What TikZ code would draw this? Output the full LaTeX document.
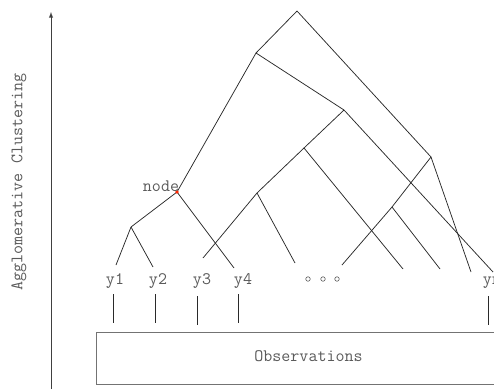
\documentclass[tikz,border=0pt]{standalone}
\usepackage{fontspec}
\definecolor{txt}{HTML}{5A5A5A}
\definecolor{edge}{HTML}{2A2A2A}
\begin{document}
\begin{tikzpicture}[x=1pt,y=-1pt,
  lbl/.style={font=\ttfamily\fontsize{17.5}{20}\selectfont, text=txt, inner sep=0pt, anchor=base},
  branch/.style={draw=edge, line width=0.75pt},
  tick/.style={draw=edge, line width=0.9pt},
  dotmark/.style={circle, draw=txt, line width=0.6pt, minimum size=4.5pt, inner sep=0pt}]
\useasboundingbox (0,0) rectangle (494,389);
% axis
\coordinate (axb) at (51,389);
\coordinate (axt) at (51,12);
\draw[draw=black!75, line width=0.9pt, -latex] (axb) -- (axt);
\node[lbl, rotate=90, anchor=center] (axl) at (19,182) {Agglomerative Clustering};
% tree internal nodes
\coordinate (root) at (297,11);
\coordinate (A) at (256,53);
\coordinate (B) at (344,110);
\coordinate (C) at (431,157);
\coordinate (D) at (304,148);
\coordinate (F) at (257,193);
\coordinate (H) at (392,207);
\coordinate (N) at (177,192);
\coordinate (E) at (131,227);
% leaf ends
\coordinate (l1) at (116,265);
\coordinate (l2) at (153,267);
\coordinate (l3) at (203,258);
\coordinate (l4) at (234,268);
\coordinate (l5) at (295,263);
\coordinate (l6) at (342,265);
\coordinate (l7) at (403,269);
\coordinate (l8) at (440,269);
\coordinate (l9) at (471,272);
\coordinate (l10) at (493,272);
% branches
\draw[branch] (root) -- (A);
\draw[branch] (root) -- (C);
\draw[branch] (A) -- (N);
\draw[branch] (A) -- (B);
\draw[branch] (B) -- (D);
\draw[branch] (B) -- (l10);
\draw[branch] (D) -- (F);
\draw[branch] (D) -- (l7);
\draw[branch] (F) -- (l3);
\draw[branch] (F) -- (l5);
\draw[branch] (C) -- (H);
\draw[branch] (C) -- (l9);
\draw[branch] (H) -- (l6);
\draw[branch] (H) -- (l8);
\draw[branch] (N) -- (E);
\draw[branch] (N) -- (l4);
\draw[branch] (E) -- (l1);
\draw[branch] (E) -- (l2);
\fill[red!70!orange] (N) circle (1.8pt);
\node[lbl] (nodelbl) at (161,191) {node};
% leaf labels
\node[lbl] (y1) at (115,284) {y1};
\node[lbl] (y2) at (158,284) {y2};
\node[lbl] (y3) at (202,284) {y3};
\node[lbl] (y4) at (243,284) {y4};
\node[lbl] (yn) at (492,284) {yn};
\node[dotmark] (d1) at (308,279) {};
\node[dotmark] (d2) at (323,279) {};
\node[dotmark] (d3) at (337,279) {};
% observations box
\node[draw=black!55, line width=1.1pt, minimum width=410pt, minimum height=52pt, inner sep=0pt, anchor=north west] (obs) at (96,332) {};
\node[lbl] (obslbl) at (308.5,361) {Observations};
% ticks
\coordinate (t1) at (113,294); \coordinate (b1) at (113,323);
\coordinate (t2) at (155,294); \coordinate (b2) at (155,323);
\coordinate (t3) at (197,296); \coordinate (b3) at (197,325);
\coordinate (t4) at (238,294); \coordinate (b4) at (238,323);
\coordinate (t5) at (488,296); \coordinate (b5) at (488,325);
\draw[tick] (t1) -- (b1);
\draw[tick] (t2) -- (b2);
\draw[tick] (t3) -- (b3);
\draw[tick] (t4) -- (b4);
\draw[tick] (t5) -- (b5);
\end{tikzpicture}
\end{document}
